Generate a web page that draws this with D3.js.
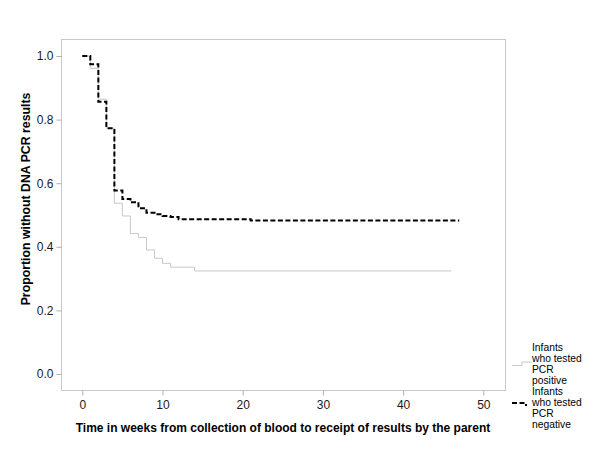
<!DOCTYPE html>
<html>
<head>
<meta charset="utf-8">
<script src="https://cdn.jsdelivr.net/npm/d3@7"></script>
<style>
  html, body { margin: 0; padding: 0; background: #fff; }
  svg { display: block; font-family: "Liberation Sans", Arial, sans-serif; }
</style>
</head>
<body>
<svg id="chart" width="600" height="467"></svg>
<script>
// ---- data ----
const xTicks = [0, 10, 20, 30, 40, 50];
const yTicks = [0.0, 0.2, 0.4, 0.6, 0.8, 1.0];

const posTimes = [0, 1, 2, 3, 4, 5, 6, 7, 8, 9, 10, 11, 14];
const posSurv  = [1.0, 0.961, 0.864, 0.773, 0.537, 0.497, 0.442, 0.429, 0.390, 0.364, 0.348, 0.336, 0.324];
const posEnd = 46;

const negTimes = [0, 1, 2, 3, 4, 5, 6, 7, 8, 9, 10, 11, 12, 21];
const negSurv  = [1.0, 0.974, 0.856, 0.773, 0.577, 0.550, 0.540, 0.521, 0.507, 0.502, 0.497, 0.494, 0.487, 0.483];
const negEnd = 47;

const legendLabels = [
  ["Infants", "who tested", "PCR", "positive"],
  ["Infants", "who tested", "PCR", "negative"]
];
const xTitle = "Time in weeks from collection of blood to receipt of results by the parent";
const yTitle = "Proportion without DNA PCR results";

// ---- layout ----
const svg = d3.select("#chart");
const frame = { left: 61, top: 39, right: 505, bottom: 390 };
const x = d3.scaleLinear().domain([0, 50]).range([82.3, 483.3]);
const y = d3.scaleLinear().domain([0, 1]).range([374, 56]);

// frame
svg.append("rect")
  .attr("x", frame.left + 0.5).attr("y", frame.top + 0.5)
  .attr("width", frame.right - frame.left).attr("height", frame.bottom - frame.top)
  .attr("fill", "none").attr("stroke", "#c8c8c8").attr("stroke-width", 1);

// y axis
const yAxis = d3.axisLeft(y).tickValues(yTicks).tickSize(5).tickPadding(3)
  .tickFormat(d3.format(".1f"));
const gy = svg.append("g").attr("transform", `translate(${frame.left + 0.5},0)`).call(yAxis);
gy.select(".domain").remove();
gy.selectAll(".tick line").attr("stroke", "#b0b0b0");
gy.selectAll(".tick text").attr("font-size", 12).attr("fill", "#1a1a1a")
  .attr("font-family", "Liberation Sans, Arial, sans-serif");

// x axis
const xAxis = d3.axisBottom(x).tickValues(xTicks).tickSize(5).tickPadding(5);
const gx = svg.append("g").attr("transform", `translate(0,${frame.bottom + 0.5})`).call(xAxis);
gx.select(".domain").remove();
gx.selectAll(".tick line").attr("stroke", "#b0b0b0");
gx.selectAll(".tick text").attr("font-size", 12).attr("fill", "#1a1a1a")
  .attr("font-family", "Liberation Sans, Arial, sans-serif");

// titles
svg.append("text")
  .attr("x", (frame.left + frame.right) / 2).attr("y", 432)
  .attr("text-anchor", "middle").attr("font-size", 12).attr("font-weight", "bold")
  .attr("fill", "#000").text(xTitle);
svg.append("text")
  .attr("transform", "translate(30,199) rotate(-90)")
  .attr("text-anchor", "middle").attr("font-size", 12.3).attr("font-weight", "bold")
  .attr("fill", "#000").text(yTitle);

// curves
const line = d3.line().x(d => x(d[0])).y(d => y(d[1])).curve(d3.curveStepAfter);
function pts(times, surv, end) {
  const p = times.map((t, i) => [t, surv[i]]);
  p.push([end, surv[surv.length - 1]]);
  return p;
}
svg.append("path").datum(pts(posTimes, posSurv, posEnd))
  .attr("d", line).attr("fill", "none").attr("stroke", "#c8c8c8").attr("stroke-width", 1);
svg.append("path").datum(pts(negTimes, negSurv, negEnd))
  .attr("d", line).attr("fill", "none").attr("stroke", "#000").attr("stroke-width", 2)
  .attr("stroke-dasharray", "5,2.5");

// legend
const leg = svg.append("g");
leg.append("path").attr("d", "M512,365.5H522V362H532")
  .attr("fill", "none").attr("stroke", "#c8c8c8").attr("stroke-width", 1);
leg.append("path").attr("d", "M512,403H526V406")
  .attr("fill", "none").attr("stroke", "#000").attr("stroke-width", 2)
  .attr("stroke-dasharray", "5,2.5");
const startYs = [351, 395];
legendLabels.forEach((lines, i) => {
  lines.forEach((s, j) => {
    leg.append("text").attr("x", 532).attr("y", startYs[i] + j * 11)
      .attr("font-size", 10.3).attr("fill", "#000").text(s);
  });
});
</script>
</body>
</html>
